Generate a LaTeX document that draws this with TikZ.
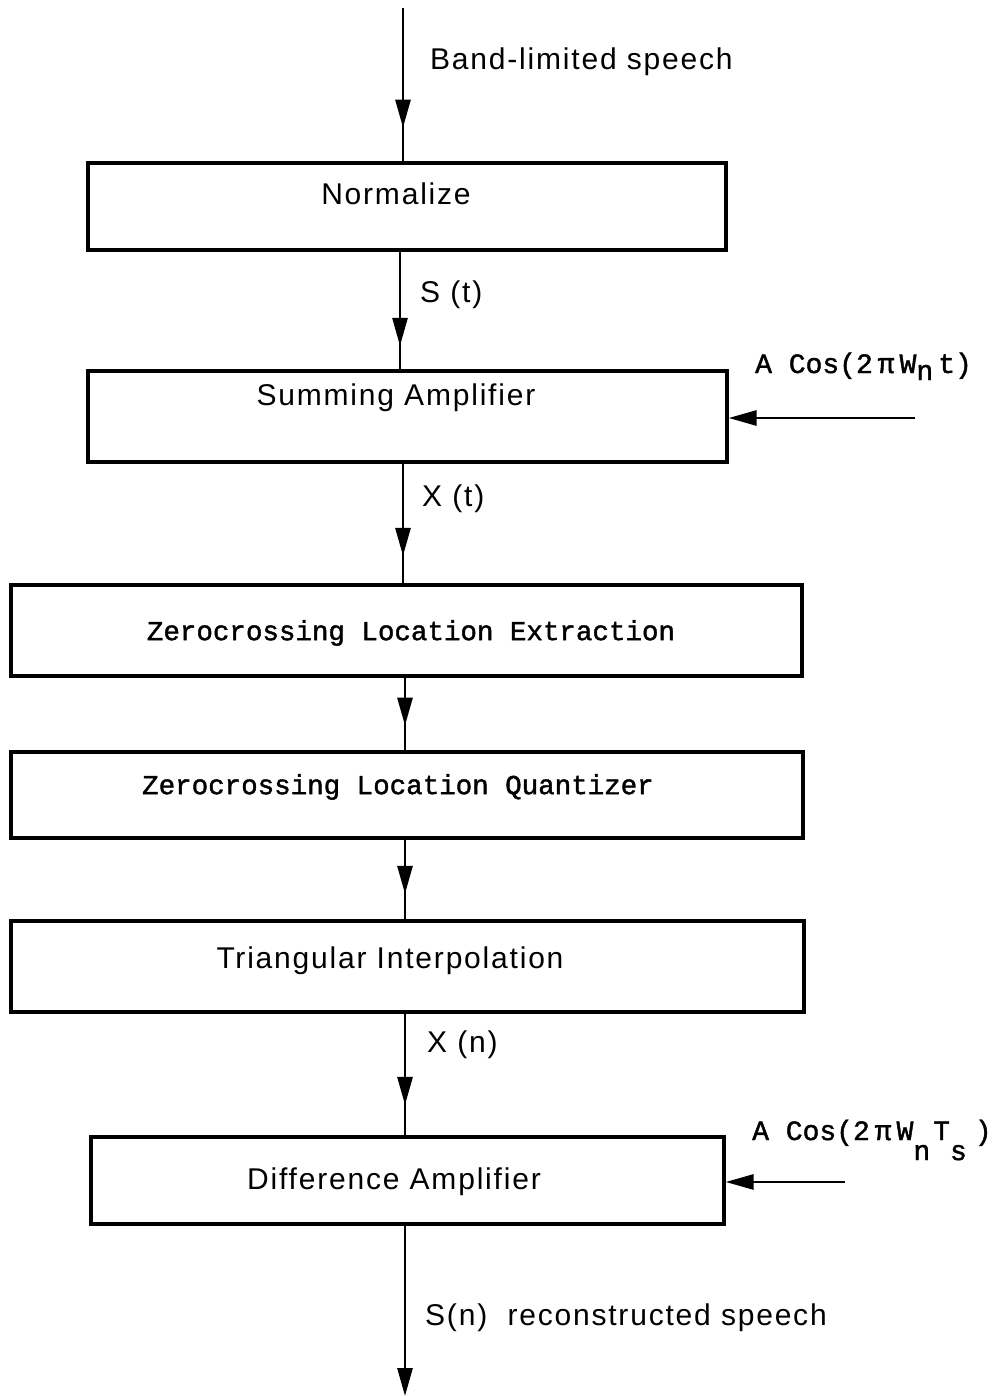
\documentclass[tikz,border=0pt]{standalone}
\usepackage{fontspec}
\setmainfont{Liberation Sans}[LetterSpace=6]
\newfontfamily\monof{Liberation Mono}[FakeBold=1.5]
\usetikzlibrary{arrows.meta,decorations.markings}
\begin{document}
\begin{tikzpicture}[x=1pt,y=-1pt,
  box/.style={draw, line width=3.2pt, inner sep=0pt, minimum width=#1},
  sanstxt/.style={inner sep=0pt, font=\fontsize{30}{36}\selectfont},
  monotxt/.style={inner sep=0pt, font=\monof\fontsize{27.5}{33}\selectfont},
  cosfont/.style={inner sep=0pt, font=\monof\fontsize{28}{32}\selectfont},
  tip/.tip={Triangle[length=28pt,width=15pt]},
  flowm/.style={line width=2.8pt, postaction={decorate},
    decoration={markings, mark=at position #1 with {\arrow{tip}}}},
  flowend/.style={line width=2.8pt, -{tip}}
]
\fill[white] (0,0) rectangle (1002,1396);
\useasboundingbox (0,0) rectangle (1002,1396);

% boxes
\node[box=638pt, minimum height=87pt] (b1) at (407,206.5) {};
\node[box=639pt, minimum height=91pt] (b2) at (407.5,416.5) {};
\node[box=791pt, minimum height=91pt] (b3) at (406.5,630.5) {};
\node[box=792pt, minimum height=86pt] (b4) at (407,795) {};
\node[box=793pt, minimum height=91pt] (b5) at (407.5,966.5) {};
\node[box=633pt, minimum height=87pt] (b6) at (407.5,1180.5) {};

% box texts
\node[sanstxt] (t1) at (396,194) {Normalize};
\node[sanstxt] (t2) at (396,398) {Summing Amplifier};
\node[monotxt] (t3) at (411,633) {Zerocrossing Location Extraction};
\node[monotxt] (t4) at (398,787) {Zerocrossing Location Quantizer};
\node[sanstxt] (t5) at (390,961) {Triangular Interpolation};
\node[sanstxt] (t6) at (394,1182) {Difference Amplifier};

% free ends
\coordinate (in) at (403,8);
\coordinate (cos1) at (915,418);
\coordinate (cos2) at (845,1182);
\coordinate (out) at (405,1396);

% connectors
\draw[flowm=0.78] (in) -- (in |- b1.north);
\draw[flowm=0.80] ([xshift=-7pt]b1.south) -- ([xshift=-7.5pt]b2.north);
\draw[flowm=0.77] ([xshift=-4.5pt]b2.south) -- ([xshift=-3.5pt]b3.north);
\draw[flowm=0.66] ([xshift=-1.5pt]b3.south) -- ([xshift=-2pt]b4.north);
\draw[flowm=0.68] ([xshift=-2pt]b4.south) -- ([xshift=-2.5pt]b5.north);
\draw[flowm=0.75] ([xshift=-2.5pt]b5.south) -- ([xshift=-2.5pt]b6.north);
\draw[flowend] ([xshift=-2.5pt]b6.south) -- (out);
\draw[flowend] (cos1) -- (cos1 -| b2.east);
\draw[flowend] (cos2) -- (cos2 -| b6.east);

% labels
\node[sanstxt, anchor=west] (l0) at (430,62) {Band-limited speech};
\node[sanstxt, anchor=west] (l1) at (420,295) {S (t)};
\node[sanstxt, anchor=west] (l2) at (422,499) {X (t)};
\node[sanstxt, anchor=west] (l3) at (427,1045) {X (n)};
\node[sanstxt, anchor=west] (l4) at (425,1318) {S(n)\ \ reconstructed speech};
\node[cosfont, anchor=base west] (c1) at (755,373)
  {A Cos(2\hspace{5pt}π\hspace{5pt}W\raisebox{-7pt}{n}\hspace{5pt}t)};
\node[cosfont, anchor=base west] (c2) at (752,1140)
  {A Cos(2\hspace{5pt}π\hspace{5pt}W\raisebox{-20pt}{n}\hspace{3pt}T\raisebox{-20pt}{s}\hspace{8pt})};
\end{tikzpicture}
\end{document}
